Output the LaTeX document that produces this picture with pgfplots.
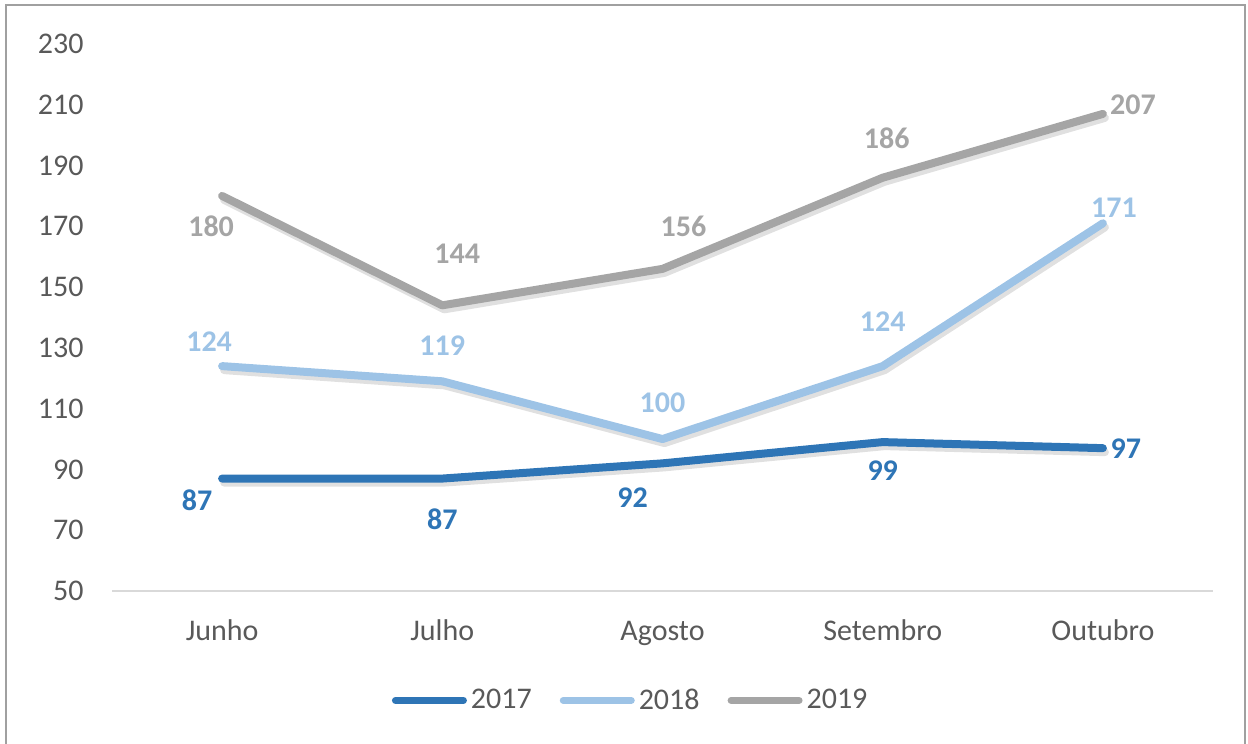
\documentclass[border=0pt]{standalone}
\usepackage{pgfplots}
\pgfplotsset{compat=1.18}
\usepackage{pgfplotstable}
\usepackage{fontspec}
\setmainfont{Carlito}
\definecolor{cA}{HTML}{2E75B6}
\definecolor{cB}{HTML}{9DC3E6}
\definecolor{cC}{HTML}{A5A5A5}
\definecolor{ticktext}{HTML}{595959}
\definecolor{axl}{HTML}{D9D9D9}
\definecolor{framec}{HTML}{A0A0A0}

\pgfplotstableread{
x y dx dy
0 87 -12.5 -11
1 87 0 -20.5
2 92 -15 -17
3 99 0 -14.5
4 97 11.5 0
}\tA
\pgfplotstableread{
x y dx dy
0 124 -6.5 12
1 119 0 18
2 100 0 18
3 124 0 22
4 171 5.5 8
}\tB
\pgfplotstableread{
x y dx dy
0 180 -5.5 -15
1 144 7.5 26
2 156 10.5 21.5
3 186 2 19.5
4 207 15 4.5
}\tC

\begin{document}
\begin{tikzpicture}
\useasboundingbox (0,0) rectangle (624pt,372pt);
\draw[framec, line width=1pt] (3pt,-5pt) rectangle (622.5pt,369.5pt);
\begin{axis}[
  at={(56pt,76.5pt)}, anchor=south west,
  scale only axis, width=550.5pt, height=273.5pt,
  xmin=-0.5, xmax=4.5, ymin=50, ymax=230,
  xtick={0,1,2,3,4},
  xticklabels={Junho,Julho,Agosto,Setembro,Outubro},
  ytick={50,70,...,230},
  axis lines*=left,
  x axis line style={draw=axl, line width=0.9pt},
  y axis line style={draw=none},
  major tick length=0pt,
  /pgf/number format/assume math mode=true,
  tick label style={font=\fontsize{15}{18}\selectfont, text=ticktext},
  yticklabel style={anchor=east, inner sep=0pt, xshift=-14pt},
  xticklabel style={anchor=base, inner sep=0pt, yshift=-25pt},
  clip=false,
  legend style={at={(0.472,-0.2)}, anchor=center, draw=none, fill=none,
    legend columns=-1, font=\fontsize{15}{18}\selectfont, text=ticktext,
    /tikz/every even column/.style={column sep=12pt},
    /tikz/every odd column/.style={column sep=0pt},
    inner sep=0pt},
  legend image code/.code={\draw[#1, line width=3.5pt, line cap=round] (0pt,0pt) -- (34pt,0pt);},
  every axis plot/.append style={line join=round, line cap=round},
]
% shadows
\addplot[black, opacity=0.12, line width=4pt, xshift=1pt, yshift=-2pt, forget plot] table[x=x,y=y]{\tA};
\addplot[black, opacity=0.12, line width=4pt, xshift=1pt, yshift=-2pt, forget plot] table[x=x,y=y]{\tB};
\addplot[black, opacity=0.12, line width=4pt, xshift=1pt, yshift=-2pt, forget plot] table[x=x,y=y]{\tC};

\addplot[cA, line width=4pt, no marks,
  visualization depends on={\thisrow{dx}\as\dx},
  visualization depends on={\thisrow{dy}\as\dy},
  nodes near coords,
  every node near coord/.append style={font=\fontsize{15}{18}\selectfont\bfseries, text=cA, anchor=center, xshift=\dx pt, yshift=\dy pt}
] table[x=x,y=y,meta=y]{\tA};
\addlegendentry{2017}
\addplot[cB, line width=4pt, no marks,
  visualization depends on={\thisrow{dx}\as\dx},
  visualization depends on={\thisrow{dy}\as\dy},
  nodes near coords,
  every node near coord/.append style={font=\fontsize{15}{18}\selectfont\bfseries, text=cB, anchor=center, xshift=\dx pt, yshift=\dy pt}
] table[x=x,y=y,meta=y]{\tB};
\addlegendentry{2018}
\addplot[cC, line width=4pt, no marks,
  visualization depends on={\thisrow{dx}\as\dx},
  visualization depends on={\thisrow{dy}\as\dy},
  nodes near coords,
  every node near coord/.append style={font=\fontsize{15}{18}\selectfont\bfseries, text=cC, anchor=center, xshift=\dx pt, yshift=\dy pt}
] table[x=x,y=y,meta=y]{\tC};
\addlegendentry{2019}
\end{axis}
\end{tikzpicture}
\end{document}
